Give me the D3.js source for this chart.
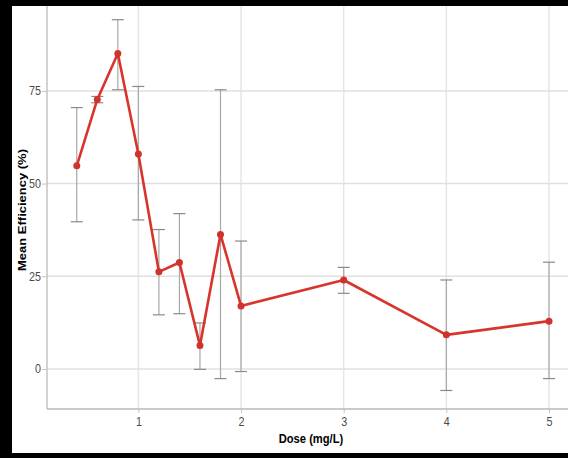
<!DOCTYPE html>
<html><head><meta charset="utf-8">
<script src="https://cdn.jsdelivr.net/npm/d3@7"></script>
<style>body{margin:0;background:#000}svg{display:block}</style>
</head><body>
<svg id="c" width="568" height="458"></svg>
<script>
const doses = [0.4, 0.6, 0.8, 1.0, 1.2, 1.4, 1.6, 1.8, 2.0, 3, 4, 5];
const means = [54.8, 72.7, 85.1, 58.0, 26.2, 28.7, 6.3, 36.3, 17.0, 24.0, 9.2, 12.9];
const upper = [70.5, 73.5, 94.2, 76.2, 37.6, 41.9, 12.4, 75.3, 34.5, 27.4, 24.0, 28.8];
const lower = [39.7, 71.8, 75.3, 40.2, 14.6, 14.9, -0.1, -2.6, -0.7, 20.4, -5.8, -2.6];
const xTicks = [1, 2, 3, 4, 5];
const yTicks = [0, 25, 50, 75];
const data = doses.map((d, i) => ({dose: d, mean: means[i], lo: lower[i], hi: upper[i]}));

const svg = d3.select("#c");
svg.append("rect").attr("x", 0).attr("y", 0).attr("width", 568).attr("height", 458).attr("fill", "#000");
svg.append("rect").attr("x", 12).attr("y", 6).attr("width", 556).attr("height", 447).attr("fill", "#fff");

const L = 47, R = 568, T = 6, B = 409;
const x = d3.scaleLinear().domain([0.11, 5.185]).range([L, R]);
const y = d3.scaleLinear().domain([-10.8, 97.9]).range([B, T]);
const SQ = 0.86; // horizontal squeeze of the text in the reference

const g = svg.append("g");
g.selectAll("line.vg").data(xTicks).join("line")
  .attr("x1", d => x(d)).attr("x2", d => x(d)).attr("y1", T).attr("y2", B)
  .attr("stroke", "#e6e6e6").attr("stroke-width", 1.5);
g.selectAll("line.hg").data(yTicks).join("line")
  .attr("x1", L).attr("x2", R).attr("y1", d => y(d)).attr("y2", d => y(d))
  .attr("stroke", "#e0e0e0").attr("stroke-width", 1.5);

const xAxis = d3.axisBottom(x).tickValues(xTicks).tickSize(4).tickPadding(4).tickFormat(d3.format("d"));
const yAxis = d3.axisLeft(y).tickValues(yTicks).tickSize(5).tickPadding(2).tickFormat(d3.format("d"));
const gx = svg.append("g").attr("transform", `translate(0,${B})`).call(xAxis);
const gy = svg.append("g").attr("transform", `translate(${L},0)`).call(yAxis);
[gx, gy].forEach(a => {
  a.select(".domain").remove();
  a.selectAll(".tick line").attr("stroke", "#c4c4c4");
  a.selectAll(".tick text").attr("fill", "#4a4a4a")
    .style("font-family", "Liberation Sans, Arial, sans-serif").style("font-size", "12.5px")
    .attr("transform", `scale(${SQ},1)`);
});
svg.append("line").attr("x1", L).attr("x2", L).attr("y1", T).attr("y2", B).attr("stroke", "#c4c4c4").attr("stroke-width", 1.5);
svg.append("line").attr("x1", L).attr("x2", R).attr("y1", B).attr("y2", B).attr("stroke", "#b8b8b8").attr("stroke-width", 1.5);

const eb = svg.append("g");
eb.selectAll("line.v").data(data).join("line")
  .attr("x1", d => x(d.dose)).attr("x2", d => x(d.dose))
  .attr("y1", d => y(d.lo)).attr("y2", d => y(d.hi))
  .attr("stroke", "#a8a8a8").attr("stroke-width", 1.2);
["lo", "hi"].forEach(k => {
  eb.selectAll("line.c" + k).data(data).join("line")
    .attr("x1", d => x(d.dose) - 6).attr("x2", d => x(d.dose) + 6)
    .attr("y1", d => y(d[k])).attr("y2", d => y(d[k]))
    .attr("stroke", "#8a8a8a").attr("stroke-width", 1.2);
});

svg.append("path").datum(data)
  .attr("d", d3.line().x(d => x(d.dose)).y(d => y(d.mean)))
  .attr("fill", "none").attr("stroke", "#d8342c").attr("stroke-width", 2.6).attr("stroke-linejoin", "round");
svg.selectAll("circle.p").data(data).join("circle")
  .attr("cx", d => x(d.dose)).attr("cy", d => y(d.mean)).attr("r", 3.5)
  .attr("fill", "#d0322c");

svg.append("text").attr("transform", `translate(311,443) scale(${SQ},1)`).attr("text-anchor", "middle")
  .style("font-family", "Liberation Sans, Arial, sans-serif").style("font-size", "13px").style("font-weight", "bold")
  .attr("fill", "#000").text("Dose (mg/L)");
svg.append("text").attr("transform", `translate(26,210) scale(${SQ},1) rotate(-90)`).attr("text-anchor", "middle")
  .style("font-family", "Liberation Sans, Arial, sans-serif").style("font-size", "13px").style("font-weight", "bold")
  .attr("fill", "#000").text("Mean Efficiency (%)");
</script>
</body></html>
